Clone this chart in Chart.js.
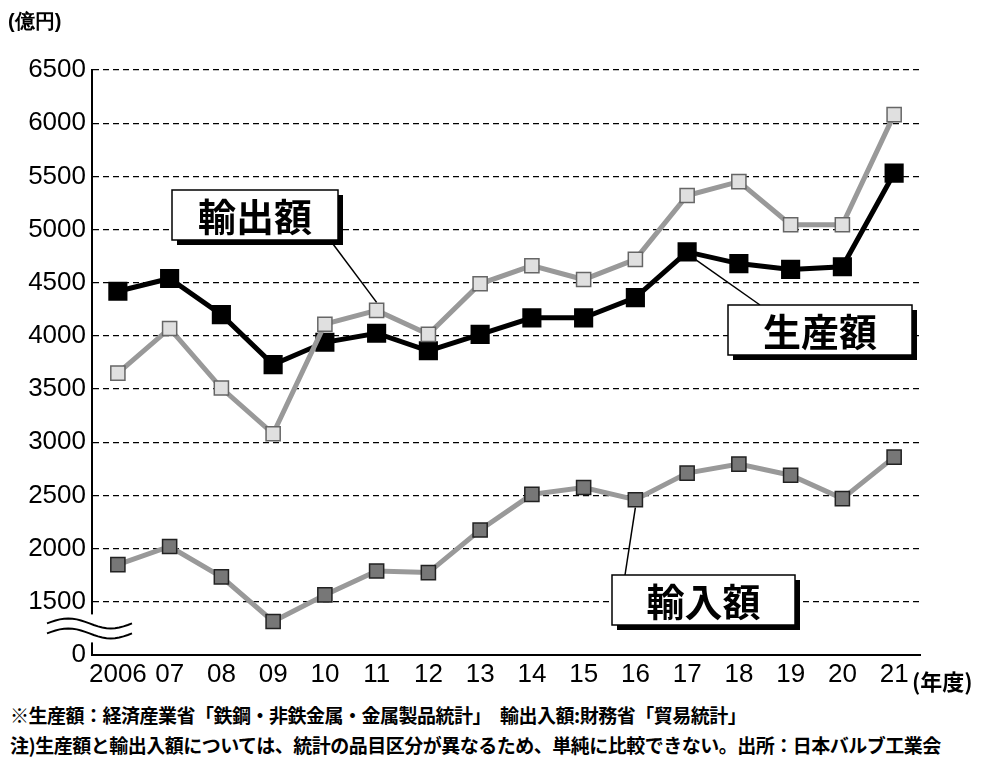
<!DOCTYPE html>
<html><head><meta charset="utf-8">
<script src="https://cdn.jsdelivr.net/npm/chart.js@4/dist/chart.umd.min.js"></script>
<style>
body{margin:0;background:#fff;font-family:"Noto Sans CJK JP",sans-serif;}
#wrap{position:relative;width:985px;height:700px;}
#notes{padding-left:10px;font-size:19px;font-weight:bold;line-height:30px;color:#000;white-space:nowrap;letter-spacing:-0.5px}
</style></head><body>
<div id="wrap"><canvas id="c" width="985" height="700"></canvas></div>
<div id="notes">※生産額：経済産業省「鉄鋼・非鉄金属・金属製品統計」　輸出入額:財務省「貿易統計」<br>注)生産額と輸出入額については、統計の品目区分が異なるため、単純に比較できない。出所：日本バルブ工業会</div>
<script>
const categories=["2006","07","08","09","10","11","12","13","14","15","16","17","18","19","20","21"];
const production=[4420,4540,4200,3730,3940,4025,3860,4015,4170,4170,4360,4790,4680,4625,4650,5530];
const exportsV=[3650,4070,3510,3080,4110,4240,4015,4490,4660,4530,4720,5320,5450,5045,5045,6080];
const importsV=[1850,2020,1735,1315,1565,1790,1775,2175,2510,2575,2460,2710,2795,2690,2470,2860];
const yTicks=[1000,1500,2000,2500,3000,3500,4000,4500,5000,5500,6000,6500];

const callouts={
  id:'callouts',
  afterDraw(ch){
    const c=ch.ctx,x=ch.scales.x,y=ch.scales.y;
    function box(text,bx,by,w,h,px,py,lx,ly){
      c.save();
      c.strokeStyle='#000';c.lineWidth=1.5;
      c.beginPath();c.moveTo(px,py);c.lineTo(lx,ly);c.stroke();
      c.fillStyle='#000';c.fillRect(bx+5,by+5,w,h);
      c.fillStyle='#fff';c.fillRect(bx,by,w,h);c.strokeRect(bx,by,w,h);
      c.fillStyle='#000';c.font='bold 38px "Noto Sans CJK JP"';
      c.textAlign='center';c.textBaseline='middle';
      c.fillText(text,bx+w/2,by+h/2+2);
      c.restore();
    }
    box('輸出額',172,190,166,50,x.getPixelForValue(5),y.getPixelForValue(exportsV[5])-8,330,240);
    box('生産額',728,305,184,50,x.getPixelForValue(11)+6,y.getPixelForValue(production[11])+6,760,305);
    box('輸入額',612,575,183,50,x.getPixelForValue(10),y.getPixelForValue(importsV[10])+8,625,575);
    c.save();c.strokeStyle='#000';c.lineWidth=2;
    const ax=x.left, yb=y.getPixelForValue(1250);
    c.fillStyle='#fff';c.fillRect(ax-45,yb-14,85,28);
    for(const d of [-5,5]){c.beginPath();
      for(let t=0;t<=1.0001;t+=0.05){const px=ax-45+t*85, py=yb+d-Math.sin(t*Math.PI*2)*5; t?c.lineTo(px,py):c.moveTo(px,py);}
      c.stroke();}
    c.restore();
    c.save();c.fillStyle='#000';c.font='bold 20px "Liberation Sans",sans-serif';
    c.fillText('(億円)',8,28);
    c.font='bold 22px "Noto Sans CJK JP"';c.fillText('(年度)',912,690);
    c.restore();
  }
};

new Chart(document.getElementById('c'),{
  type:'line',
  data:{labels:categories,datasets:[
    {label:'輸入額',data:importsV,borderColor:'#999',borderWidth:5,pointStyle:'rect',pointRadius:10,pointBackgroundColor:'#777',pointBorderColor:'#222',pointBorderWidth:1.5},
    {label:'輸出額',data:exportsV,borderColor:'#999',borderWidth:5,pointStyle:'rect',pointRadius:10,pointBackgroundColor:'#e0e0e0',pointBorderColor:'#666',pointBorderWidth:1.5},
    {label:'生産額',data:production,borderColor:'#000',borderWidth:5,pointStyle:'rect',pointRadius:10,pointBackgroundColor:'#000',pointBorderColor:'#000'}
  ]},
  options:{responsive:false,animation:false,
    layout:{padding:{top:70,right:65,left:0,bottom:0}},
    plugins:{legend:{display:false},tooltip:{enabled:false}},
    scales:{
      x:{offset:true,grid:{display:false,drawTicks:false},border:{color:'#000',width:2},
        ticks:{color:'#000',padding:4,maxRotation:0,autoSkip:false,font:{family:'"Liberation Sans Narrow","Liberation Sans",sans-serif',size:26}},
        afterFit(s){s.height=45;}},
      y:{min:1000,max:6500,afterBuildTicks(s){s.ticks=yTicks.map(v=>({value:v}));},
        grid:{color:'#000',lineWidth:1.2,drawTicks:false},border:{color:'#000',width:2,dash:[6,4]},
        ticks:{color:'#000',padding:6,font:{family:'"Liberation Sans Narrow","Liberation Sans",sans-serif',size:26},callback:v=>v===1000?'0':v},
        afterFit(s){s.width=92;}}
    }},
  plugins:[callouts]
});
</script></body></html>
